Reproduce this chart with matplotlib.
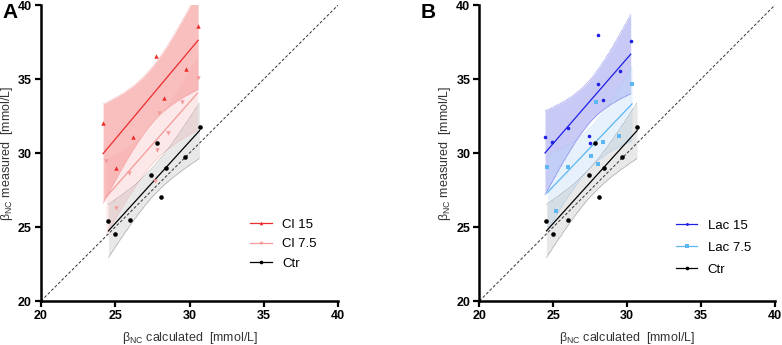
import numpy as np
import matplotlib
matplotlib.use("Agg")
import matplotlib.pyplot as plt

plt.rcParams['font.family'] = ['Liberation Sans', 'DejaVu Sans']

# ---- data ----
ctr_x = [24.54, 25.01, 26.0, 27.42, 27.8, 28.11, 28.4, 29.66, 30.67]
ctr_y = [25.43, 24.55, 25.5, 28.51, 30.68, 27.05, 29.0, 29.73, 31.76]

cl15_x = [24.18, 25.06, 26.22, 27.71, 28.31, 29.75, 30.58]
cl15_y = [32.05, 29.0, 31.1, 36.55, 33.74, 35.68, 38.58]

cl75_x = [24.38, 25.03, 25.95, 27.68, 27.83, 27.97, 28.57, 29.52, 30.54]
cl75_y = [29.46, 26.3, 28.63, 28.1, 30.2, 32.68, 31.33, 33.47, 35.05]

lac15_x = [24.44, 24.94, 25.98, 27.42, 27.51, 28.05, 28.05, 28.37, 29.54, 30.24]
lac15_y = [31.1, 30.72, 31.69, 31.17, 30.68, 37.95, 34.68, 33.58, 35.56, 37.59]

lac75_x = [24.6, 25.16, 25.98, 27.53, 27.91, 28.05, 28.34, 29.47, 30.33]
lac75_y = [29.03, 26.06, 29.03, 29.77, 33.45, 29.23, 30.72, 31.15, 34.66]

ticks = [20, 25, 30, 35, 40]

# two-sided 95% t critical values by degrees of freedom
T95 = {5: 2.571, 6: 2.447, 7: 2.365, 8: 2.306, 9: 2.262}


def fit_band(x, y):
    x = np.asarray(x, float)
    y = np.asarray(y, float)
    n = len(x)
    b, a = np.polyfit(x, y, 1)
    xs = np.linspace(x.min(), x.max(), 100)
    yhat = a + b * xs
    res = y - (a + b * x)
    s = np.sqrt(np.sum(res ** 2) / (n - 2))
    sxx = np.sum((x - x.mean()) ** 2)
    se = s * np.sqrt(1.0 / n + (xs - x.mean()) ** 2 / sxx)
    t = T95[n - 2]
    return xs, yhat, yhat - t * se, yhat + t * se


def draw_group(ax, x, y, color, fill, alpha, marker, ms, label, edge):
    xs, yh, lo, hi = fit_band(x, y)
    ax.fill_between(xs, lo, hi, color=fill, alpha=alpha, lw=0, zorder=1)
    ax.plot(xs, lo, ls=(0, (1, 1)), color=edge, lw=0.5, zorder=2)
    ax.plot(xs, hi, ls=(0, (1, 1)), color=edge, lw=0.5, zorder=2)
    ax.plot(xs, yh, color=color, lw=0.9, zorder=3)
    ax.plot(x, y, ls='none', marker=marker, ms=ms, color=color, mew=0, zorder=4)
    ax.plot([], [], color=color, lw=0.9, marker=marker, ms=ms * 0.8, mew=0, label=label)


fig = plt.figure(figsize=(7.82, 3.45), dpi=100)
axA = fig.add_axes([0.0524, 0.1275, 0.380, 0.858])
axB = fig.add_axes([0.6130, 0.1275, 0.378, 0.858])

groups = {
    axA: [
        (cl15_x, cl15_y, '#ee2b2b', '#ee2b2b', 0.30, '^', 3.2, 'Cl 15', '#f29a9a'),
        (cl75_x, cl75_y, '#f59a9a', '#f7a5a5', 0.25, 'v', 3.2, 'Cl 7.5', '#f6b8b8'),
        (ctr_x, ctr_y, '#000000', '#9a9a9a', 0.22, 'o', 3.3, 'Ctr', '#777777'),
    ],
    axB: [
        (lac15_x, lac15_y, '#1f1fe6', '#3a3ae0', 0.27, 'o', 2.6, 'Lac 15', '#6060e8'),
        (lac75_x, lac75_y, '#5bb6f2', '#b9d8f6', 0.35, 's', 3.0, 'Lac 7.5', '#9ccaf2'),
        (ctr_x, ctr_y, '#000000', '#9a9a9a', 0.22, 'o', 3.3, 'Ctr', '#777777'),
    ],
}

for ax in (axA, axB):
    ax.plot([20, 40], [20, 40], color='#333333', ls=(0, (3, 2)), lw=0.7, zorder=2)
    for g in groups[ax]:
        draw_group(ax, *g)
    ax.set_xlim(20, 40)
    ax.set_ylim(20, 40)
    ax.set_xticks(ticks)
    ax.set_yticks(ticks)
    for lab in ax.get_xticklabels() + ax.get_yticklabels():
        lab.set_fontweight('bold')
    ax.tick_params(direction='out', width=1.6, length=4.5, labelsize=9, colors='black', pad=2)
    for sp in ['top', 'right']:
        ax.spines[sp].set_visible(False)
    for sp in ['left', 'bottom']:
        ax.spines[sp].set_linewidth(1.8)
    ax.set_xlabel(r'β$_\mathregular{NC}$ calculated  [mmol/L]', fontsize=9, color='#333333', labelpad=6)
    ax.set_ylabel(r'β$_\mathregular{NC}$ measured  [mmol/L]', fontsize=9, color='#333333', labelpad=2)

axA.legend(loc='lower left', bbox_to_anchor=(0.665, 0.065), frameon=False, fontsize=9.5,
           handlelength=1.6, labelspacing=0.55, handletextpad=0.8)
axB.legend(loc='lower left', bbox_to_anchor=(0.625, 0.046), frameon=False, fontsize=9.5,
           handlelength=1.6, labelspacing=0.72, handletextpad=0.8)

fig.text(0.003, 0.99, 'A', fontsize=15, fontweight='bold', va='top', ha='left')
fig.text(0.538, 0.99, 'B', fontsize=15, fontweight='bold', va='top', ha='left')

fig.savefig('out.png', dpi=100)
